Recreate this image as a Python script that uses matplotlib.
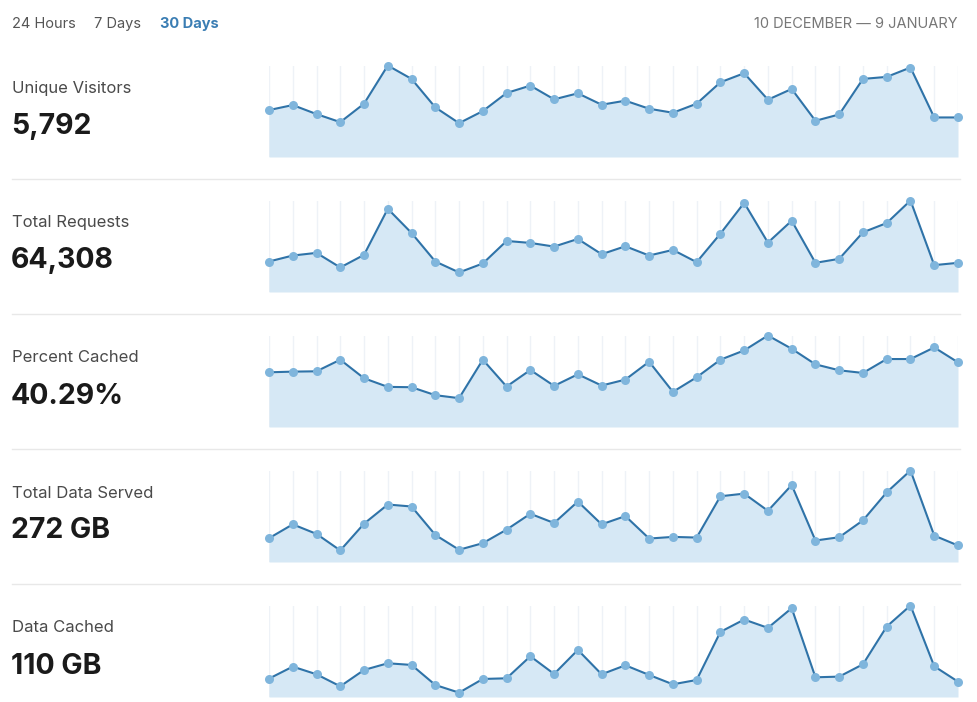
import matplotlib
matplotlib.use("Agg")
import matplotlib.pyplot as plt
import numpy as np

plt.rcParams['font.family'] = ['Inter', 'DejaVu Sans']

tabs = ["24 Hours", "7 Days", "30 Days"]
active_tab = "30 Days"
date_range = "10 DECEMBER \u2014 9 JANUARY"

metric_names = ["Unique Visitors", "Total Requests", "Percent Cached", "Total Data Served", "Data Cached"]
metric_totals = ["5,792", "64,308", "40.29%", "272 GB", "110 GB"]

days = list(range(1, 31))

unique_visitors = [140, 155, 128, 104, 159, 273, 233, 148, 101, 137, 191, 213, 172, 190, 156,
                   168, 144, 132, 159, 223, 250, 171, 203, 108, 127, 233, 239, 267, 118, 118]
total_requests = [92, 110, 118, 74, 112, 251, 178, 92, 59, 86, 154, 148, 137, 160, 114,
                  138, 110, 127, 90, 176, 269, 149, 215, 88, 100, 180, 208, 276, 81, 88]
percent_cached = [165, 167, 168, 203, 147, 121, 120, 96, 87, 203, 122, 172, 124, 159, 125,
                  143, 197, 106, 150, 203, 231, 276, 236, 189, 171, 163, 205, 205, 240, 195]
total_data_served = [72, 114, 85, 35, 116, 174, 168, 82, 37, 57, 98, 146, 118, 183, 114,
                     139, 71, 76, 74, 199, 207, 155, 233, 65, 75, 126, 211, 277, 80, 50]
data_cached = [55, 91, 68, 32, 81, 101, 96, 36, 13, 54, 56, 122, 69, 141, 68,
               95, 66, 38, 51, 195, 232, 207, 266, 59, 61, 98, 211, 274, 92, 46]

series = [unique_visitors, total_requests, percent_cached, total_data_served, data_cached]

W, H = 977, 702
fig = plt.figure(figsize=(W / 100, H / 100), dpi=100)
fig.patch.set_facecolor("white")

def fx(px):
    return px / W

def fy(py):
    return 1 - py / H

# Tabs
tab_x = [12, 94, 160]
for t, x in zip(tabs, tab_x):
    active = (t == active_tab)
    fig.text(fx(x), fy(24), t, fontsize=10.5, ha="left", va="center",
             color="#3a7db3" if active else "#555555",
             fontweight="bold" if active else "normal")
fig.text(fx(958), fy(24), date_range, fontsize=10.5, ha="right", va="center", color="#777777")

line_col = "#2f73a8"
marker_col = "#7fb5dc"
fill_col = "#d6e8f5"
grid_col = "#eef2f7"

row_step = 135
chart_left, chart_right = 269, 958
for i, (name, total, vals) in enumerate(zip(metric_names, metric_totals, series)):
    off = i * row_step
    fig.text(fx(12), fy(88 + off), name, fontsize=12, ha="left", va="center", color="#4a4a4a")
    fig.text(fx(11), fy(126 + off), total, fontsize=20.5, ha="left", va="center",
             color="#1a1a1a", fontweight="bold")
    if i < len(series) - 1:
        fig.add_artist(plt.Line2D([fx(12), fx(960)], [fy(179 + off), fy(179 + off)],
                                  color="#e8e8e8", lw=1))
    top = 65.5 + off
    base = 157 + off
    ax = fig.add_axes([fx(chart_left), fy(base), fx(chart_right) - fx(chart_left),
                       (base - top) / H])
    ax.set_xlim(days[0], days[-1])
    ax.set_ylim(0, max(vals))
    for d in days:
        ax.axvline(d, color=grid_col, lw=1, zorder=0)
    ax.fill_between(days, vals, 0, color=fill_col, lw=0, zorder=1)
    ax.plot(days, vals, color=line_col, lw=1.5, zorder=2, clip_on=False)
    ax.plot(days, vals, ls="none", marker="o", ms=6.5, color=marker_col,
            markeredgewidth=0, zorder=3, clip_on=False)
    ax.axis("off")

fig.savefig("out.png", dpi=100, facecolor="white")
